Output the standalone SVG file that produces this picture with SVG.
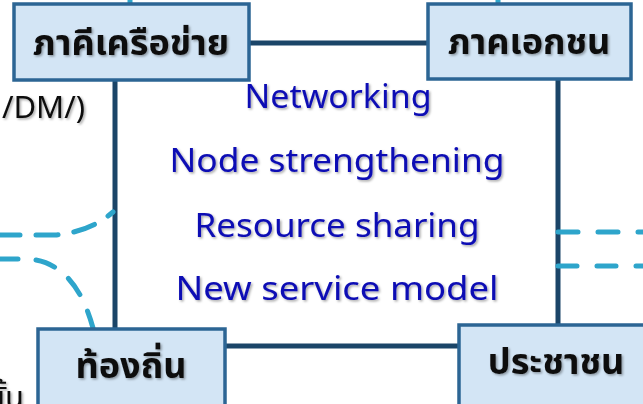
<svg xmlns="http://www.w3.org/2000/svg" width="643" height="404" viewBox="0 0 643 404">
<defs>
<filter id="sh" x="-10%" y="-20%" width="130%" height="150%">
<feDropShadow dx="1.5" dy="1.5" stdDeviation="1" flood-color="#000" flood-opacity="0.35"/>
</filter>
<style>
.box{fill:#d3e5f5;stroke:#2c6594;stroke-width:3.5}
.lbl{font-family:"Noto Sans","Noto Sans Thai","DejaVu Sans",sans-serif;font-weight:bold;font-size:36px;fill:#111;text-anchor:middle}
.mid{font-family:"Noto Sans","DejaVu Sans",sans-serif;font-size:33px;fill:#0a0ab4;text-anchor:middle}
.conn{stroke:#1b4568;stroke-width:5;fill:none}
.dash{stroke:#2ea5cb;stroke-width:5;fill:none;stroke-linecap:round}
.side{font-family:"Noto Sans","Noto Sans Thai","DejaVu Sans",sans-serif;font-size:31px;fill:#111}
</style>
</defs>
<rect width="643" height="404" fill="#fff"/>
<g id="connectors">
<line class="conn" x1="249" y1="43" x2="428" y2="43"/>
<line class="conn" x1="115" y1="80" x2="115" y2="330"/>
<line class="conn" x1="558" y1="80" x2="558" y2="326"/>
<line class="conn" x1="225" y1="346" x2="459" y2="346"/>
<line class="dash" x1="130" y1="0" x2="130" y2="4" stroke-linecap="butt"/>
<line class="dash" x1="498" y1="0" x2="498" y2="4" stroke-linecap="butt"/>
<path class="dash" d="M-2 235 L55 235 Q90 232 113 212" stroke-dasharray="22 16"/>
<path class="dash" d="M-2 259 L28 259 Q75 262 93 328" stroke-dasharray="20 18"/>
<path class="dash" d="M558 232 L643 232" stroke-dasharray="20 20"/>
<path class="dash" d="M558 266 L643 266" stroke-dasharray="19 20"/>
</g>
<g id="n-network">
<rect class="box" x="14" y="4" width="235" height="76"/>
<text class="lbl" x="131" y="55" filter="url(#sh)">ภาคีเครือข่าย</text>
</g>
<g id="n-private">
<rect class="box" x="428" y="4" width="203" height="75"/>
<text class="lbl" x="529" y="54" filter="url(#sh)">ภาคเอกชน</text>
</g>
<g id="n-local">
<rect class="box" x="38" y="329" width="187" height="80"/>
<text class="lbl" x="131" y="378" filter="url(#sh)">ท้องถิ่น</text>
</g>
<g id="n-people">
<rect class="box" x="459" y="325" width="190" height="84"/>
<text class="lbl" x="556" y="374" filter="url(#sh)">ประชาชน</text>
</g>
<g id="center-text" filter="url(#sh)">
<text class="mid" x="338" y="108" textLength="187" lengthAdjust="spacingAndGlyphs">Networking</text>
<text class="mid" x="337" y="172" textLength="335" lengthAdjust="spacingAndGlyphs">Node strengthening</text>
<text class="mid" x="337" y="237" textLength="285" lengthAdjust="spacingAndGlyphs">Resource sharing</text>
<text class="mid" x="337" y="300" textLength="323" lengthAdjust="spacingAndGlyphs">New service model</text>
</g>
<g id="side-text" filter="url(#sh)">
<text class="side" x="85" y="118" text-anchor="end">/DM/)</text>
<text class="side" x="24" y="408" text-anchor="end">ขั้น</text>
</g>
</svg>
